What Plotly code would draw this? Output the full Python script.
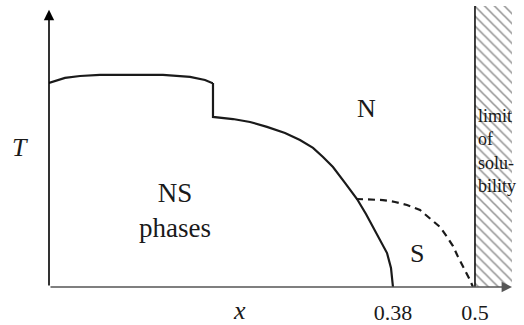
import plotly.graph_objects as go

# ── schematic phase diagram values (x = doping, T = temperature, arb. units) ──
plateau_x = [-0.1234, -0.100, -0.078, -0.0488, -0.0048, 0.0434, 0.083, 0.1049, 0.1152, 0.1166]
plateau_T = [0.962, 0.986, 0.995, 1.0, 1.0, 1.0, 0.991, 0.976, 0.962, 0.962]

boundary_x = [0.1166, 0.1166, 0.1459, 0.1708, 0.1956, 0.222, 0.2439, 0.263, 0.2776, 0.2922,
              0.3098, 0.3274, 0.3405, 0.3508, 0.3625, 0.3713, 0.3771, 0.38]
boundary_T = [0.962, 0.802, 0.792, 0.778, 0.755, 0.726, 0.693, 0.656, 0.613, 0.566,
              0.491, 0.415, 0.344, 0.283, 0.217, 0.160, 0.090, 0.0]

s_x = [0.3259, 0.3464, 0.3654, 0.383, 0.4005, 0.4196, 0.4342, 0.4488, 0.4591, 0.4679,
       0.4752, 0.4854, 0.4927, 0.4971]
s_T = [0.415, 0.413, 0.410, 0.401, 0.387, 0.363, 0.325, 0.283, 0.236, 0.193,
       0.142, 0.080, 0.033, 0.0]

solubility_x = [0.5, 0.5542]
x_ticks = [0.38, 0.5]
x_ticktext = ["0.38", "0.5"]
x_min, x_max = -0.1234, 0.5542
T_max, T_axis_top = 1.325, 1.307

SERIF = "Liberation Serif"
INK = "#1a1a1a"

fig = go.Figure()

# hatched "limit of solubility" strip
fig.add_trace(go.Scatter(
    x=[solubility_x[0], solubility_x[1], solubility_x[1], solubility_x[0], solubility_x[0]],
    y=[0, 0, T_max, T_max, 0],
    fill="toself", mode="lines", line=dict(width=0),
    fillcolor="white",
    fillpattern=dict(shape="\\", size=7, solidity=0.22, fgcolor="#222", bgcolor="white"),
    hoverinfo="skip"))
fig.add_trace(go.Scatter(x=[solubility_x[0]] * 2, y=[0, T_max], mode="lines",
                         line=dict(color="black", width=1.5), hoverinfo="skip"))

# phase boundaries
fig.add_trace(go.Scatter(x=plateau_x, y=plateau_T, mode="lines",
                         line=dict(color=INK, width=2.2)))
fig.add_trace(go.Scatter(x=boundary_x, y=boundary_T, mode="lines",
                         line=dict(color=INK, width=2.2)))
fig.add_trace(go.Scatter(x=s_x, y=s_T, mode="lines",
                         line=dict(color=INK, width=2.2, dash="7px,5px")))

# axes drawn as arrows
arrow = dict(text="", showarrow=True, arrowhead=2, arrowsize=1.3, arrowwidth=1.6,
             axref="x", ayref="y", xref="x", yref="y")
fig.add_annotation(x=x_min, y=T_axis_top, ax=x_min, ay=0, arrowcolor="black", **arrow)
fig.add_annotation(x=x_max, y=0, ax=x_min, ay=0, arrowcolor="#555", **arrow)

# region labels (inside the axes)
labels = [
    ("N", 0.3419, 0.84, 26),
    ("S", 0.4151, 0.16, 26),
    ("NS<br>phases", 0.061, 0.363, 27),
]
for txt, lx, ly, size in labels:
    fig.add_annotation(x=lx, y=ly, text=txt, showarrow=False, align="center",
                       xanchor="center", yanchor="middle",
                       font=dict(family=SERIF, size=size, color=INK))

# axis names sit outside the axes, so place them in paper units
fig.add_annotation(xref="paper", x=-0.063, y=0.656, text="<i>T</i>", showarrow=False,
                   xanchor="center", yanchor="middle",
                   font=dict(family=SERIF, size=26, color=INK))
fig.add_annotation(yref="paper", x=0.1561, y=-0.082, text="<i>x</i>", showarrow=False,
                   xanchor="center", yanchor="middle",
                   font=dict(family=SERIF, size=26, color=INK))

fig.add_annotation(x=0.5015, y=0.64, text="limit<br>of<br>solu-<br>bility", showarrow=False,
                   xanchor="left", yanchor="middle", align="left",
                   font=dict(family=SERIF, size=18, color=INK))

fig.update_layout(
    width=524, height=325, showlegend=False,
    plot_bgcolor="white", paper_bgcolor="white",
    font=dict(family=SERIF, color=INK),
    margin=dict(l=49, r=12, t=6, b=38, autoexpand=False),
    xaxis=dict(range=[x_min, x_max], showgrid=False, zeroline=False, showline=False,
               tickvals=x_ticks, ticktext=x_ticktext, ticks="", ticklabelstandoff=10,
               automargin=False, tickfont=dict(family=SERIF, size=22, color=INK)),
    yaxis=dict(range=[0, T_max], showgrid=False, zeroline=False, showline=False,
               showticklabels=False, automargin=False),
)

fig.write_html("out.html", config={"displayModeBar": False},
               post_script="document.body.style.margin='0';")
